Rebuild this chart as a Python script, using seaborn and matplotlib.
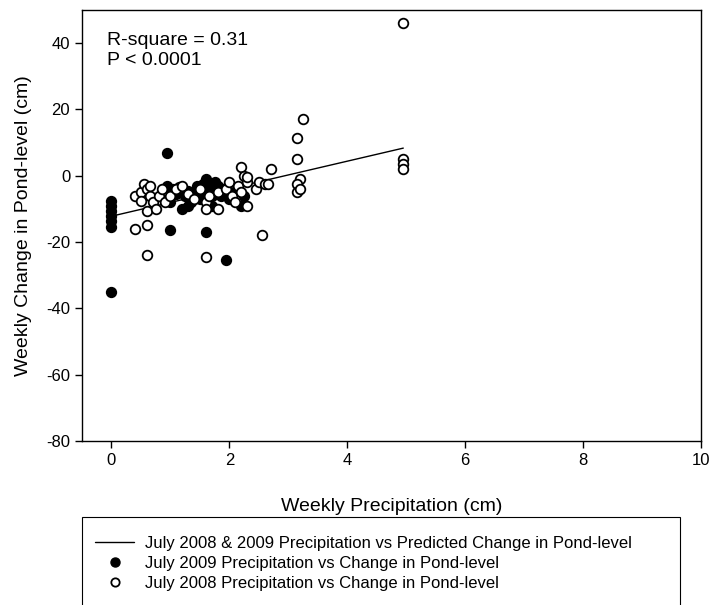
import matplotlib
matplotlib.use("Agg")
import matplotlib.pyplot as plt
import seaborn as sns
import numpy as np
import pandas as pd
from matplotlib.patches import Rectangle
from matplotlib.lines import Line2D

# --- data ---
x2009 = [0, 0, 0, 0, 0, 0, 0,
         0.95, 1.0, 1.6, 1.95,
         0.95, 1.05, 1.1, 1.15, 1.2, 1.25, 1.3, 1.35, 1.4, 1.45, 1.5, 1.55, 1.6, 1.65,
         1.7, 1.75, 1.8, 1.85, 1.9, 2.0, 2.1, 2.2, 2.25, 1.0, 1.3, 1.55, 1.7]
y2009 = [-7.5, -9, -10.5, -12, -13.5, -15.5, -35,
         7, -16.5, -17, -25.5,
         -3, -4, -5.5, -3.5, -10, -6, -4.5, -8, -5, -3, -7, -5, -1, -4,
         -9, -2, -3, -6, -4, -7, -5, -9, -6, -8, -9, -2.5, -6]

x2008 = [4.95, 3.25, 3.15, 3.15, 3.2, 3.15, 3.15, 3.2, 4.95, 4.95, 4.95,
         0.6, 1.6, 2.55, 0.4, 0.6,
         0.4, 0.5, 0.55, 0.6, 0.65, 0.7, 0.6, 0.75, 0.8, 0.85, 0.5, 0.65, 0.9, 1.0,
         1.1, 1.2, 1.3, 1.4, 1.5, 1.6, 1.6, 1.65, 1.8, 1.8, 1.95, 2.0, 2.05, 2.1,
         2.15, 2.2, 2.25, 2.3, 2.2, 2.3, 2.45, 2.5, 2.6, 2.7, 2.65, 2.3]
y2008 = [46, 17, 11.5, 5, -1, -2.5, -5, -4, 5, 3.5, 2,
         -24, -24.5, -18, -16, -15,
         -6, -5, -2.5, -4, -6, -8, -10.5, -10, -6, -4, -7.5, -3, -8, -6,
         -4, -3, -5.5, -7, -4, -8, -10, -6, -5, -10, -4, -2, -6, -8,
         -3, 2.5, 0, -2, -5, -9, -4, -2, -2.5, 2, -2.5, -0.5]

fit_intercept = -12.2
fit_slope = 4.15
fit_xrange = [0, 4.95]

r_text = "R-square = 0.31\nP < 0.0001"
xlabel = "Weekly Precipitation (cm)"
ylabel = "Weekly Change in Pond-level (cm)"
leg_labels = ["July 2008 & 2009 Precipitation vs Predicted Change in Pond-level",
              "July 2009 Precipitation vs Change in Pond-level",
              "July 2008 Precipitation vs Change in Pond-level"]
xticks = [0, 2, 4, 6, 8, 10]
yticks = [-80, -60, -40, -20, 0, 20, 40]

# --- style ---
sns.set_style("ticks")
plt.rcParams["font.family"] = ["Liberation Sans", "DejaVu Sans"]
plt.rcParams["axes.unicode_minus"] = False
plt.rcParams["text.color"] = "black"
plt.rcParams["axes.labelcolor"] = "black"

W, H = 710, 605
fig = plt.figure(figsize=(W / 100, H / 100), dpi=100)
ax = fig.add_axes([82 / W, 1 - 441 / H, (701 - 82) / W, (441 - 10) / H])

df09 = pd.DataFrame({"x": x2009, "y": y2009})
df08 = pd.DataFrame({"x": x2008, "y": y2008})

xs = np.array(fit_xrange)
dfl = pd.DataFrame({"x": xs, "y": fit_intercept + fit_slope * xs})
sns.lineplot(data=dfl, x="x", y="y", ax=ax, color="black", lw=1.0)

sns.scatterplot(data=df09, x="x", y="y", ax=ax, color="black", edgecolor="black",
                s=48, linewidth=1.2, zorder=3)
sns.scatterplot(data=df08, x="x", y="y", ax=ax, color="white", edgecolor="black",
                s=48, linewidth=1.3, zorder=4)

ax.set_xlim(-0.5, 10)
ax.set_ylim(-80, 50)
ax.set_xticks(xticks)
ax.set_yticks(yticks)
ax.tick_params(direction="out", length=5, width=1, labelsize=12, colors="black")
for sp in ax.spines.values():
    sp.set_visible(True)
    sp.set_color("black")
    sp.set_linewidth(1.0)

ax.set_xlabel(xlabel, fontsize=14, labelpad=22, color="black")
ax.set_ylabel(ylabel, fontsize=14, labelpad=10, color="black")

ax.text(0.04, 0.95, r_text, transform=ax.transAxes, fontsize=14,
        va="top", ha="left", linespacing=1.3, color="black")

# legend
handles = [Line2D([0], [0], color="black", lw=1.0),
           Line2D([0], [0], marker="o", color="none", markerfacecolor="black",
                  markeredgecolor="black", markersize=6.5),
           Line2D([0], [0], marker="o", color="none", markerfacecolor="white",
                  markeredgecolor="black", markersize=6, markeredgewidth=1.3)]
fig.legend(handles, leg_labels, loc="upper left",
           bbox_to_anchor=(87 / W, 1 - 528 / H), frameon=False,
           fontsize=12, handlelength=2.3, handletextpad=0.7, labelspacing=0.3,
           borderpad=0, labelcolor="black")
fig.patches.append(Rectangle((82 / W, -0.05), (680 - 82) / W, 0.05 + (1 - 517 / H),
                             transform=fig.transFigure, fill=False,
                             edgecolor="black", lw=0.8))

fig.savefig("out.png", dpi=100)
